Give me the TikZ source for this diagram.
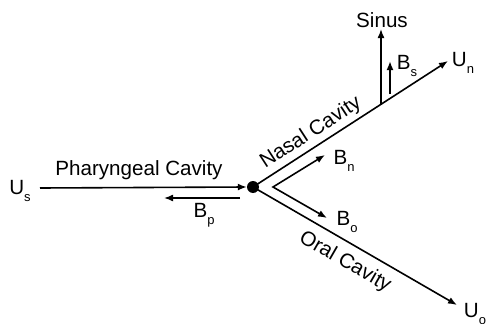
\documentclass[tikz,border=0pt]{standalone}
\usepackage{fontspec}
\setmainfont{Liberation Sans}
\usetikzlibrary{arrows.meta}
\newcommand{\sbs}[1]{\raisebox{-0.32em}{\fontsize{13}{13}\selectfont #1}}
\begin{document}
\begin{tikzpicture}[x=1pt,y=-1pt,
  lbl/.style={inner sep=0pt, font=\fontsize{20.6}{24}\selectfont},
  conn/.style={line width=1.6pt, -{Latex[length=9pt,width=7pt]}}]
\useasboundingbox (0,0) rectangle (488,324);
\node[circle, fill=black, inner sep=0pt, minimum size=12pt] (dot) at (253,187) {};
\coordinate (us) at (40,188);
\coordinate (un) at (448,61);
\coordinate (uo) at (457,305);
\coordinate (sb) at (381,104);
\coordinate (st) at (381,29);
\coordinate (bsb) at (390,94);
\coordinate (bst) at (390,61);
\coordinate (bpa) at (240,198);
\coordinate (bpb) at (164,198);
\coordinate (corner) at (273,187);
\coordinate (bnt) at (325,155);
\coordinate (bot) at (327,218);
% labels
\node[lbl] (Us) at (20,191) {U\sbs{s}};
\node[lbl, anchor=base] (phar) at (139,175) {Pharyngeal Cavity};
\node[lbl] (Bp) at (204,215) {B\sbs{p}};
\node[lbl] (sinus) at (382,20) {Sinus};
\node[lbl] (Bs) at (407,66) {B\sbs{s}};
\node[lbl] (Un) at (463,63) {U\sbs{n}};
\node[lbl] (Uo) at (475,314) {U\sbs{o}};
\node[lbl] (Bn) at (344,161) {B\sbs{n}};
\node[lbl] (Bo) at (347,222) {B\sbs{o}};
\node[lbl, rotate=33] (nasal) at (311,133) {Nasal Cavity};
\node[lbl, rotate=-30] (oral) at (345,262) {Oral Cavity};
% connectors
\draw[conn] (us) -- (dot.west);
\draw[conn] (dot.center) -- (un);
\draw[conn] (dot.center) -- (uo);
\draw[conn] (sb) -- (st);
\draw[line width=2.6pt, -{Latex[length=9pt,width=7pt]}] (bsb) -- (bst);
\draw[conn] (bpa) -- (bpb);
\draw[line width=1.6pt, {Latex[length=9pt,width=7pt]}-{Latex[length=9pt,width=7pt]}] (bnt) -- (corner) -- (bot);
\end{tikzpicture}
\end{document}
